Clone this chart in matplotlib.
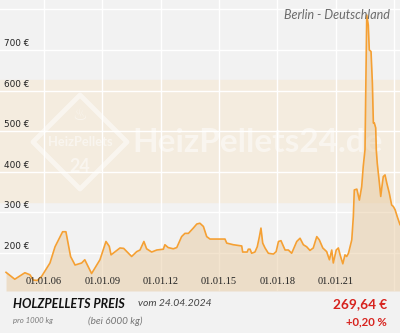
import matplotlib
matplotlib.use("Agg")
import matplotlib.pyplot as plt
from matplotlib.patches import Polygon

# ---- data ----
years = [2004.05, 2004.5, 2005.02, 2005.28, 2005.45, 2005.66, 2005.88, 2006.31, 2006.57, 2006.96,
         2007.13, 2007.37, 2007.6, 2007.94, 2008.1, 2008.45, 2008.88, 2009.19, 2009.36, 2009.45,
         2009.91, 2010.1, 2010.51, 2010.77, 2010.94, 2011.14, 2011.28, 2011.54, 2011.8, 2012.14,
         2012.22, 2012.39, 2012.65, 2012.83, 2013.08, 2013.25, 2013.43, 2013.68, 2013.86, 2014.02,
         2014.2, 2014.37, 2014.54, 2015.05, 2015.31, 2015.4, 2015.74, 2016.17, 2016.22, 2016.45,
         2016.51, 2016.6, 2016.68, 2016.85, 2016.97, 2017.08, 2017.16, 2017.25, 2017.37, 2017.54,
         2017.8, 2017.94, 2018.06, 2018.19, 2018.28, 2018.4, 2018.57, 2018.74, 2019.0, 2019.17,
         2019.34, 2019.51, 2019.68, 2019.85, 2020.03, 2020.16, 2020.34, 2020.54, 2020.68, 2020.8,
         2020.88, 2021.03, 2021.14, 2021.23, 2021.37, 2021.48, 2021.57, 2021.66, 2021.83, 2021.91,
         2021.96, 2022.09, 2022.22, 2022.34, 2022.42, 2022.51, 2022.6, 2022.68, 2022.73, 2022.82,
         2022.89, 2022.94, 2022.99, 2023.06, 2023.09, 2023.14, 2023.25, 2023.32, 2023.37, 2023.45,
         2023.54, 2023.63, 2023.76, 2023.88, 2023.97, 2024.06, 2024.17, 2024.31]
prices = [152, 135, 151, 146, 133, 132, 142, 175, 215, 252,
          252, 191, 170, 175, 183, 149, 183, 228, 216, 195,
          212, 211, 191, 203, 207, 228, 210, 202, 207, 209,
          220, 213, 210, 213, 240, 248, 248, 261, 271, 273,
          265, 240, 234, 234, 234, 224, 220, 217, 202, 202,
          209, 209, 199, 202, 215, 240, 261, 224, 212, 199,
          197, 203, 228, 230, 220, 207, 207, 199, 228, 236,
          220, 215, 206, 212, 240, 232, 212, 203, 183, 207,
          175, 207, 212, 195, 173, 195, 191, 199, 232, 289,
          355, 357, 330, 363, 413, 454, 786, 761, 700, 696,
          618, 520, 520, 508, 454, 421, 372, 339, 359, 388,
          392, 372, 347, 318, 314, 306, 289, 269.64]

tick_years = [2006, 2009, 2012, 2015, 2018, 2021, 2024]
tick_labels = ["01.01.06", "01.01.09", "01.01.12", "01.01.15", "01.01.18", "01.01.21", ""]
y_levels = [200, 300, 400, 500, 600, 700]
y_labels = ["200 €", "300 €", "400 €", "500 €", "600 €", "700 €"]
grid_levels = [200, 300, 400, 500, 600, 700, 800]
band = (325, 626)

title_loc = "Berlin - Deutschland"
footer_title = "HOLZPELLETS PREIS"
footer_date = "vom 24.04.2024"
footer_unit = "pro 1000 kg"
footer_qty = "(bei 6000 kg)"
footer_price = "269,64 €"
footer_change = "+0,20 %"

# ---- figure ----
W, H = 400, 333
fig = plt.figure(figsize=(W / 100, H / 100), dpi=100)
fig.patch.set_facecolor("#f2f2f2")

ax_bottom_px = 291
ax = fig.add_axes([0, (H - ax_bottom_px) / H, 1, ax_bottom_px / H])
ax.set_facecolor("#f2f2f2")
ymin, ymax = 106, 823
xmin, xmax = 2003.74, 2024.31
ax.set_xlim(xmin, xmax)
ax.set_ylim(ymin, ymax)
for s in ax.spines.values():
    s.set_visible(False)
ax.set_xticks([])
ax.set_yticks([])

ax.axhspan(band[0], band[1], color="#f4ecdf", zorder=0)
for g in grid_levels:
    ax.axhline(g, color="white", lw=1, zorder=1)
for t in tick_years:
    ax.axvline(t, color="white", lw=1, zorder=1)

# watermark
wm_col = (1, 1, 1, 0.5)
ax.text(132 / W, 1 - 143 / ax_bottom_px, "HeizPellets24.de", transform=ax.transAxes, fontsize=24,
        fontweight="bold", family="Lato", color=wm_col, ha="left", va="center", zorder=2)
cx, cy, r = 80 / W, 1 - 142 / ax_bottom_px, 47
diamond = Polygon([(cx - r / W, cy), (cx, cy + r / ax_bottom_px), (cx + r / W, cy),
                   (cx, cy - r / ax_bottom_px)], closed=True, transform=ax.transAxes,
                  fill=False, ec=wm_col, lw=3.5, joinstyle="round", zorder=2)
ax.add_patch(diamond)
ax.text(cx, 1 - 142 / ax_bottom_px, "HeizPellets", transform=ax.transAxes, fontsize=9.3,
        fontweight="bold", family="Lato", color=wm_col, ha="center", va="center", zorder=2)
ax.text(cx, 1 - 166 / ax_bottom_px, "24", transform=ax.transAxes, fontsize=13, fontweight="bold",
        family="Lato", color=wm_col, ha="center", va="center", zorder=2)
ax.text(cx, 1 - 115 / ax_bottom_px, "♨", transform=ax.transAxes, fontsize=12,
        family="DejaVu Sans", color=wm_col, ha="center", va="center", zorder=2)

ax.fill_between(years, prices, ymin, color="#e6c596", alpha=0.45, lw=0, zorder=3)
ax.plot(years, prices, color="#f5a033", lw=1.2, zorder=4, solid_joinstyle="round")

for v, lab in zip(y_levels, y_labels):
    ax.annotate(lab, (0, v), xycoords=("axes fraction", "data"), xytext=(4, 2),
                textcoords="offset pixels", fontsize=6.4, family="DejaVu Sans",
                color="#222222", ha="left", va="bottom", zorder=5)
for t, lab in zip(tick_years, tick_labels):
    ax.annotate(lab, (t, 0), xycoords=("data", "axes fraction"), xytext=(0, 9),
                textcoords="offset pixels", fontsize=7.5, family="Liberation Serif",
                color="#222222", ha="center", va="center", zorder=5)

ax.text(390 / W, 1 - 15 / ax_bottom_px, title_loc, transform=ax.transAxes, fontsize=9,
        style="italic", family="Lato", color="#6b6b6b", ha="right", va="center", zorder=5)

# footer
def fy(px):
    return 1 - px / H

fig.text(13 / W, fy(304), footer_title, fontsize=9, fontweight="bold", style="italic",
         family="Lato", color="#111111", ha="left", va="center")
fig.text(138 / W, fy(304), footer_date, fontsize=7.5, style="italic",
         family="Lato", color="#444444", ha="left", va="center")
fig.text(13 / W, fy(321), footer_unit, fontsize=5.6, style="italic",
         family="Lato", color="#777777", ha="left", va="center")
fig.text(88 / W, fy(321), footer_qty, fontsize=7.2, style="italic",
         family="Lato", color="#777777", ha="left", va="center")
fig.text(387 / W, fy(304), footer_price, fontsize=9.8, fontweight="bold",
         family="Lato", color="#d7231e", ha="right", va="center")
fig.text(387 / W, fy(322), footer_change, fontsize=8.2, fontweight="bold",
         family="Lato", color="#d7231e", ha="right", va="center")

fig.savefig("out.png", dpi=100, facecolor=fig.get_facecolor())
